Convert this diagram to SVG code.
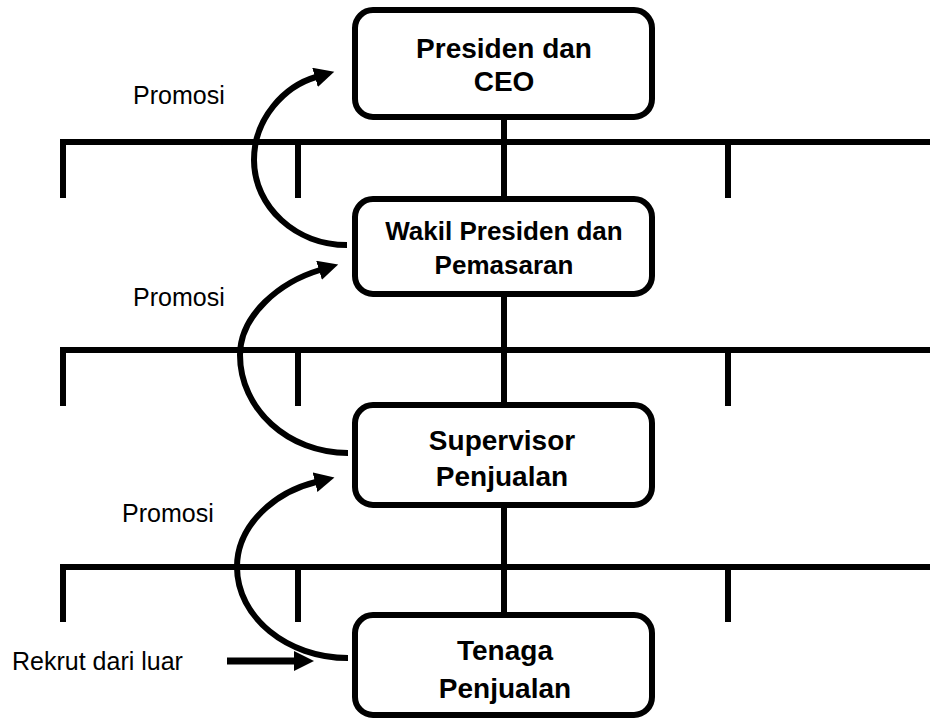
<svg xmlns="http://www.w3.org/2000/svg" width="930" height="721" viewBox="0 0 930 721">
<style>
.box{fill:#fff;stroke:#000;stroke-width:6}
.bt{font-family:"Liberation Sans",Arial,sans-serif;font-weight:bold;fill:#000;text-anchor:middle}
.lbl{font-family:"Liberation Sans",Arial,sans-serif;font-size:25px;fill:#000}
.ln{stroke:#000;stroke-width:6;fill:none}
.arc{stroke:#000;stroke-width:6;fill:none;marker-end:url(#ah)}
</style>
<defs>
<marker id="ah" markerUnits="userSpaceOnUse" markerWidth="22" markerHeight="22" refX="1" refY="10" orient="auto" viewBox="0 0 22 22">
<path d="M0,0 L20,10 L0,20 z" fill="#000"/>
</marker>
</defs>
<rect width="930" height="721" fill="#fff"/>
<g id="connectors">
<path class="ln" d="M60,142 H930 M63,139 V198 M298,142 V198 M728,142 V198"/>
<path class="ln" d="M60,350 H930 M63,347 V406 M298,350 V406 M728,350 V406"/>
<path class="ln" d="M60,567 H930 M63,564 V622 M298,567 V622 M728,567 V622"/>
<path class="ln" d="M504,117 V199 M504,294 V405 M504,505 V615"/>
<path class="arc" d="M347,245 C296,245 254,207 254,160 C254,118 285,86 316,77"/>
<path class="arc" d="M348,453 C288,453 240,409 240,355 C240,315 280,282 320,270"/>
<path class="arc" d="M348,658 C287,658 237,617 237,567 C237,525 275,492 316,482"/>
<path class="arc" d="M227,661 H295" style="stroke-width:7"/>
</g>
<g id="presiden">
<rect class="box" x="355" y="10" width="297" height="107" rx="18"/>
<text class="bt" x="504" y="58" font-size="28">Presiden dan</text>
<text class="bt" x="504" y="91" font-size="28">CEO</text>
</g>
<g id="wakil">
<rect class="box" x="355" y="199" width="297" height="95" rx="18"/>
<text class="bt" x="504" y="240" font-size="26">Wakil Presiden dan</text>
<text class="bt" x="504" y="274" font-size="26">Pemasaran</text>
</g>
<g id="supervisor">
<rect class="box" x="355" y="405" width="297" height="100" rx="18"/>
<text class="bt" x="502" y="450" font-size="28">Supervisor</text>
<text class="bt" x="502" y="486" font-size="28">Penjualan</text>
</g>
<g id="tenaga">
<rect class="box" x="355" y="615" width="297" height="100" rx="18"/>
<text class="bt" x="505" y="660" font-size="28">Tenaga</text>
<text class="bt" x="505" y="698" font-size="28">Penjualan</text>
</g>
<g id="labels">
<text class="lbl" x="133" y="104">Promosi</text>
<text class="lbl" x="133" y="306">Promosi</text>
<text class="lbl" x="122" y="522">Promosi</text>
<text class="lbl" x="12" y="670">Rekrut dari luar</text>
</g>
</svg>
